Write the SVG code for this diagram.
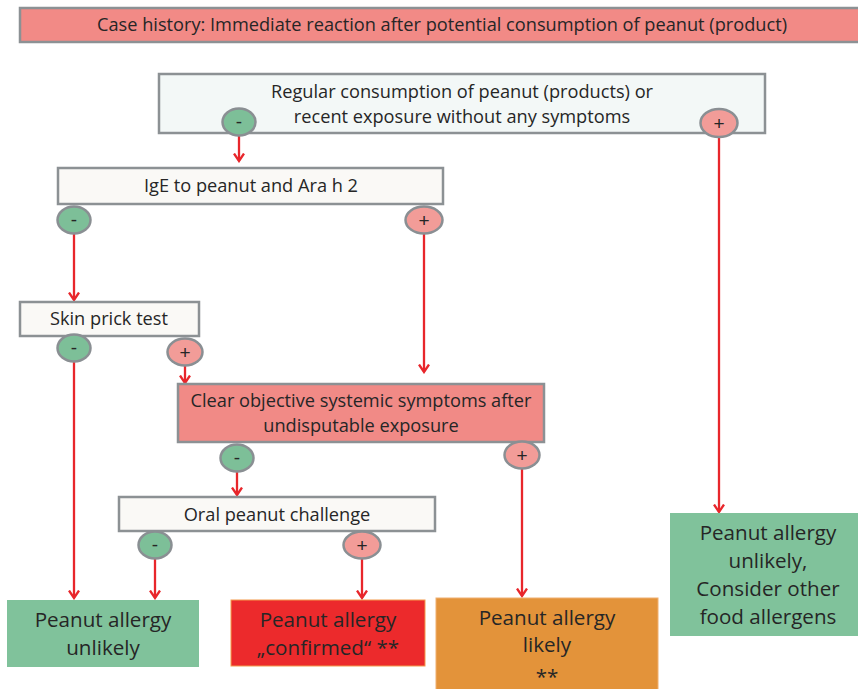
<svg xmlns="http://www.w3.org/2000/svg" width="858" height="689" viewBox="0 0 858 689">
  <style>
    .t { font-family: "Open Sans", Lato, "Liberation Sans", sans-serif; fill: #262626; text-anchor: middle; }
    .s { font-size: 18.2px; }
    .b { font-size: 20.6px; }
    .box { stroke: #8c9194; stroke-width: 2.5; }
    .pale { fill: #faf9f6; }
    .pink { fill: #f18a86; }
    .neg { fill: #7dbf98; stroke: #8a8f93; stroke-width: 2.5; }
    .pos { fill: #f29c98; stroke: #8a8f93; stroke-width: 2.5; }
    .sign { font-family: "Liberation Sans", sans-serif; font-size: 19px; fill: #262626; text-anchor: middle; }
    .link { stroke: #e8262b; stroke-width: 2.3; fill: none; marker-end: url(#head); }
  </style>
  <defs>
    <!-- open chevron arrowhead, drawn pointing along +x -->
    <marker id="head" viewBox="0 0 10 12" refX="8.5" refY="6" markerWidth="10" markerHeight="12" markerUnits="userSpaceOnUse" orient="auto">
      <path d="M1,1 L8.5,6 L1,11" fill="none" stroke="#e8262b" stroke-width="2.3" stroke-linejoin="miter"/>
    </marker>
  </defs>

  <rect width="858" height="689" fill="#ffffff"/>

  <!-- connectors -->
  <g id="connectors">
    <line class="link" x1="239" y1="136" x2="239" y2="161"/>
    <line class="link" x1="74" y1="234" x2="74" y2="300"/>
    <line class="link" x1="424" y1="234" x2="424" y2="372"/>
    <line class="link" x1="185" y1="366" x2="185" y2="383"/>
    <line class="link" x1="74" y1="362" x2="74" y2="598"/>
    <line class="link" x1="237" y1="472" x2="237" y2="495"/>
    <line class="link" x1="155" y1="559" x2="155" y2="598"/>
    <line class="link" x1="362" y1="559" x2="362" y2="598"/>
    <line class="link" x1="522" y1="469" x2="522" y2="596"/>
    <line class="link" x1="719" y1="138" x2="719" y2="512"/>
  </g>

  <!-- header -->
  <g id="case-history">
    <rect class="box" x="20" y="8" width="850" height="34" fill="#f28a86"/>
    <text class="t s" x="442" y="31">Case history: Immediate reaction after potential consumption of peanut (product)</text>
  </g>

  <g id="regular-consumption">
    <rect class="box" x="159" y="74" width="606" height="59" fill="#f3f8f7"/>
    <text class="t s" x="462" y="98">Regular consumption of peanut (products) or</text>
    <text class="t s" x="462" y="123">recent exposure without any symptoms</text>
    <ellipse class="neg" cx="239" cy="122" rx="16.5" ry="13.5"/>
    <text class="sign" x="239" y="128">-</text>
    <ellipse class="pos" cx="719" cy="123" rx="18.5" ry="14"/>
    <text class="sign" x="719" y="130">+</text>
  </g>

  <g id="ige">
    <rect class="box pale" x="58" y="168" width="385" height="36"/>
    <text class="t s" x="251" y="192">IgE to peanut and Ara h 2</text>
    <ellipse class="neg" cx="74" cy="220" rx="16.5" ry="13.5"/>
    <text class="sign" x="74" y="226">-</text>
    <ellipse class="pos" cx="424" cy="220" rx="18.5" ry="13.5"/>
    <text class="sign" x="424" y="227">+</text>
  </g>

  <g id="skin-prick">
    <rect class="box pale" x="20" y="302" width="179" height="34"/>
    <text class="t s" x="109" y="325">Skin prick test</text>
    <ellipse class="neg" cx="74" cy="348" rx="16.5" ry="13.5"/>
    <text class="sign" x="74" y="354">-</text>
    <ellipse class="pos" cx="185" cy="352" rx="17.5" ry="13.5"/>
    <text class="sign" x="185" y="359">+</text>
  </g>

  <g id="symptoms">
    <rect class="box pink" x="178" y="384" width="366" height="58"/>
    <text class="t s" x="361" y="407">Clear objective systemic symptoms after</text>
    <text class="t s" x="361" y="432">undisputable exposure</text>
    <ellipse class="neg" cx="237" cy="458" rx="16.5" ry="13.5"/>
    <text class="sign" x="237" y="464">-</text>
    <ellipse class="pos" cx="522" cy="455" rx="17.5" ry="13.5"/>
    <text class="sign" x="522" y="462">+</text>
  </g>

  <g id="oral-challenge">
    <rect class="box pale" x="119" y="497" width="316" height="34"/>
    <text class="t s" x="277" y="521">Oral peanut challenge</text>
    <ellipse class="neg" cx="155" cy="545" rx="16.5" ry="13.5"/>
    <text class="sign" x="155" y="551">-</text>
    <ellipse class="pos" cx="362" cy="545" rx="18.5" ry="13.5"/>
    <text class="sign" x="362" y="552">+</text>
  </g>

  <g id="unlikely">
    <rect x="7" y="600" width="192" height="67" fill="#80c29b"/>
    <text class="t b" x="103" y="627">Peanut allergy</text>
    <text class="t b" x="103" y="655">unlikely</text>
  </g>

  <g id="confirmed">
    <rect x="231" y="600" width="194" height="66" fill="#ec2a2c" stroke="#f39a4b" stroke-width="1"/>
    <text class="t b" x="328" y="627">Peanut allergy</text>
    <text class="t b" x="328" y="655">„confirmed“ **</text>
  </g>

  <g id="likely">
    <rect x="436" y="598" width="222" height="95" fill="#e3933a" stroke="#f0b070" stroke-width="1"/>
    <text class="t b" x="547" y="625">Peanut allergy</text>
    <text class="t b" x="547" y="652">likely</text>
    <text class="t b" x="547" y="684">**</text>
  </g>

  <g id="other-allergens">
    <rect x="670" y="513" width="192" height="123" fill="#80c29b"/>
    <text class="t b" x="768" y="540">Peanut allergy</text>
    <text class="t b" x="768" y="568">unlikely,</text>
    <text class="t b" x="768" y="596">Consider other</text>
    <text class="t b" x="768" y="624">food allergens</text>
  </g>
</svg>
